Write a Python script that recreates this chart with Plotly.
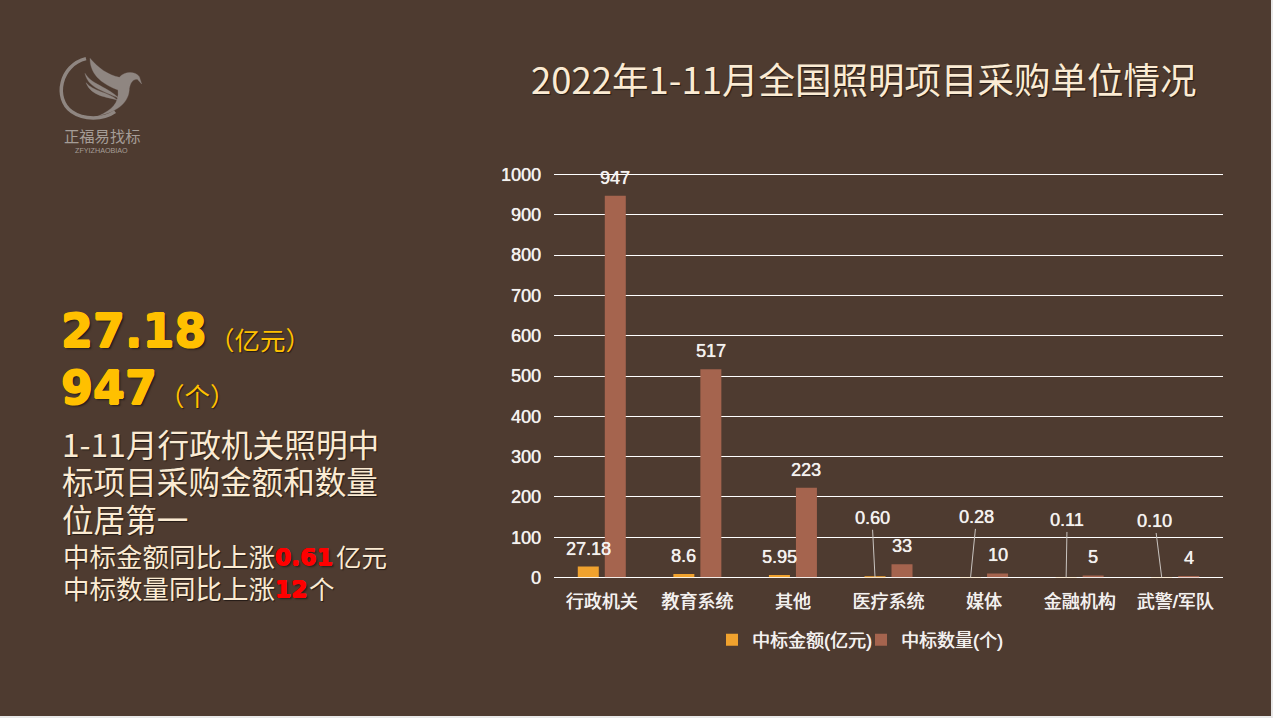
import plotly.graph_objects as go

# ---------- data ----------
categories = ["行政机关", "教育系统", "其他", "医疗系统", "媒体", "金融机构", "武警/军队"]
amount_values = [27.18, 8.6, 5.95, 0.60, 0.28, 0.11, 0.10]
amount_labels = ["27.18", "8.6", "5.95", "0.60", "0.28", "0.11", "0.10"]
count_values = [947, 517, 223, 33, 10, 5, 4]
series_names = ["中标金额(亿元)", "中标数量(个)"]
y_ticks = [0, 100, 200, 300, 400, 500, 600, 700, 800, 900, 1000]
title_text = "2022年1-11月全国照明项目采购单位情况"

# ---------- style ----------
W, H = 1273, 718
BG = "#4E3B30"
ORANGE = "#F0A22E"
BROWN = "#A5644E"
CREAM = "#FBEBD3"
GOLD = "#FFC000"
RED = "#FF0000"
WHITE = "#F4F2F0"
LOGO = "#8F8681"
CJK = "Noto Sans CJK SC"
SANS = "Liberation Sans, Noto Sans CJK SC"
HEAVY = "DejaVu Sans, Noto Sans CJK SC"
SHADOW = "1px 1px 1px rgba(0,0,0,0.55)"
LABEL_SHADOW = "0.3px 0 0 rgba(255,255,255,0.8), 0 0 1px rgba(255,255,255,0.5)"
BAR_SLOT = 13.5
LABEL_LIFT = 18
# leader-line label offsets in pixels for the four tiny amounts
leader_offsets = {3: (-3, -59), 4: (6, -60), 5: (1, -57), 6: (-7, -56)}


def px(x):
    return x / W


def py(y):
    return 1 - y / H


def heavy_shadow(color, d):
    return (f"{d}px 0 0 {color}, -{d}px 0 0 {color}, 0 {d}px 0 {color}, 0 -{d}px 0 {color}, "
            "2px 2px 2px rgba(0,0,0,0.5)")


fig = go.Figure()
fig.add_trace(go.Bar(x=categories, y=amount_values, name=series_names[0],
                     marker=dict(color=ORANGE, line_width=0)))
fig.add_trace(go.Bar(x=categories, y=count_values, name=series_names[1],
                     marker=dict(color=BROWN, line_width=0)))

annotations = []


def label(text, x, y, size, color, family=CJK, anchor="left", shadow=SHADOW):
    annotations.append(dict(
        text=text, xref="paper", yref="paper", x=px(x), y=py(y), xanchor=anchor, yanchor="middle",
        showarrow=False, borderpad=0, font=dict(size=size, color=color, family=family, shadow=shadow),
    ))


# title
label(title_text, 863, 78, 36.5, CREAM, anchor="center")

# left panel
label("<b>27.18</b>", 60, 331, 46, GOLD, HEAVY, shadow=heavy_shadow(GOLD, 0.8))
label("（亿元）", 208, 338, 25.5, GOLD)
label("<b>947</b>", 60, 388, 46, GOLD, HEAVY, shadow=heavy_shadow(GOLD, 0.8))
label("（个）", 158, 394, 25.5, GOLD)
label("1-11月行政机关照明中", 60.5, 443, 31.7, CREAM)
label("标项目采购金额和数量", 60.5, 480, 31.6, CREAM)
label("位居第一", 60.5, 518, 31.6, CREAM)
label("中标金额同比上涨", 61.5, 555, 26.5, CREAM)
label("<b>0.61</b>", 274, 557, 23.5, RED, HEAVY, shadow=heavy_shadow(RED, 0.5))
label("亿元", 335, 555, 25.5, CREAM)
label("中标数量同比上涨", 61.5, 587, 26.5, CREAM)
label("<b>12</b>", 274, 589, 23.5, RED, HEAVY, shadow=heavy_shadow(RED, 0.5))
label("个", 308, 587, 25.5, CREAM)

# logo text
label("正福易找标", 63, 135, 15.3, "#A59D97", shadow=None)
label("ZFYIZHAOBIAO", 101, 150.5, 7.2, "#A59D97", SANS, anchor="center", shadow=None)

# data labels
for i, cat in enumerate(categories):
    common = dict(xref="x", yref="y", xanchor="center", yanchor="middle",
                  font=dict(size=18, color=WHITE, family=SANS, shadow=LABEL_SHADOW))
    annotations.append(dict(text=str(count_values[i]), x=cat, y=count_values[i], xshift=BAR_SLOT,
                            yshift=LABEL_LIFT, showarrow=False, **common))
    if i in leader_offsets:
        ax, ay = leader_offsets[i]
        annotations.append(dict(text=amount_labels[i], x=cat, y=amount_values[i], xshift=-BAR_SLOT,
                                showarrow=True, arrowhead=0, arrowwidth=1, arrowcolor="#C9C4C0",
                                standoff=0, axref="pixel", ayref="pixel", ax=ax, ay=ay, **common))
    else:
        annotations.append(dict(text=amount_labels[i], x=cat, y=amount_values[i], xshift=-BAR_SLOT,
                                yshift=LABEL_LIFT, showarrow=False, **common))


def logo_path(points):
    """points given in 3x-zoom logo coordinates, as SVG-like command tuples"""
    out = []
    for cmd, *vals in points:
        coords = []
        for j in range(0, len(vals), 2):
            coords.append(f"{px(40 + vals[j] / 3):.5f},{py(40 + vals[j + 1] / 3):.5f}")
        out.append(cmd + " ".join(coords))
    return " ".join(out)


def logo_stroke(points, width):
    return dict(type="path", xref="paper", yref="paper", layer="above",
                path=logo_path(points),
                line=dict(color=LOGO, width=width), fillcolor="rgba(0,0,0,0)")


def logo_fill(points):
    return dict(type="path", xref="paper", yref="paper", layer="above",
                path=logo_path(points) + " Z", line=dict(color=LOGO, width=0.3), fillcolor=LOGO)


shapes = [
    dict(type="rect", xref="paper", yref="paper", x0=0, x1=px(1271), y0=py(716), y1=1,
         fillcolor=BG, line_width=0, layer="below"),
    # baseline above the bars, as in the reference
    dict(type="line", xref="x domain", yref="y", x0=0, x1=1, y0=0, y1=0, layer="above",
         line=dict(color="#FFFFFF", width=1)),
    # ring
    logo_stroke([("M", 138, 56), ("C", 60, 75, 40, 175, 95, 215), ("C", 130, 240, 190, 240, 225, 215)], 3.5),
    # wing, head and tail
    logo_fill([("M", 150, 55), ("C", 175, 85, 205, 105, 238, 112), ("C", 252, 94, 285, 92, 298, 110),
               ("L", 305, 132), ("L", 292, 118), ("C", 280, 118, 272, 125, 268, 145),
               ("C", 268, 185, 235, 215, 175, 228), ("C", 215, 210, 238, 190, 234, 150),
               ("C", 195, 135, 150, 110, 150, 55)]),
    # feathers
    logo_fill([("M", 135, 100), ("C", 155, 135, 205, 140, 240, 178), ("C", 205, 155, 145, 150, 135, 100)]),
    logo_fill([("M", 138, 128), ("C", 160, 155, 205, 155, 232, 180), ("C", 200, 170, 155, 170, 138, 128)]),
]

fig.update_layout(
    width=W, height=H, autosize=False,
    margin=dict(l=0, r=0, t=0, b=0, autoexpand=False),
    paper_bgcolor="#E9E9E9", plot_bgcolor="rgba(0,0,0,0)",
    barmode="group", bargap=0.435, bargroupgap=0.222,
    font=dict(family=SANS, color=WHITE, size=18),
    showlegend=True,
    legend=dict(orientation="h", x=px(712), xanchor="left", y=py(640), yanchor="middle",
                font=dict(size=18, color=WHITE, family=SANS, shadow=LABEL_SHADOW),
                bgcolor="rgba(0,0,0,0)", itemwidth=30, entrywidth=104, entrywidthmode="pixels",
                traceorder="normal"),
    xaxis=dict(domain=[px(554), px(1223)], type="category", categoryorder="array",
               categoryarray=categories, showgrid=False, ticks="", showline=False, zeroline=False,
               ticklabelstandoff=11,
               tickfont=dict(size=18, color=WHITE, family=SANS, shadow=LABEL_SHADOW)),
    yaxis=dict(domain=[py(577.5), py(173.3)], range=[0, 1003], tickvals=y_ticks, ticktext=[str(t) for t in y_ticks],
               showgrid=True, gridcolor="#FFFFFF", gridwidth=1, zeroline=True, zerolinecolor="#FFFFFF",
               zerolinewidth=1, ticks="", showline=False, ticklabelstandoff=12,
               tickfont=dict(size=18, color=WHITE, family=SANS, shadow=LABEL_SHADOW)),
    annotations=annotations,
    shapes=shapes,
)

fig.write_html("out.html", config={"displayModeBar": False},
               post_script="document.body.style.margin='0';document.body.style.overflow='hidden';")
